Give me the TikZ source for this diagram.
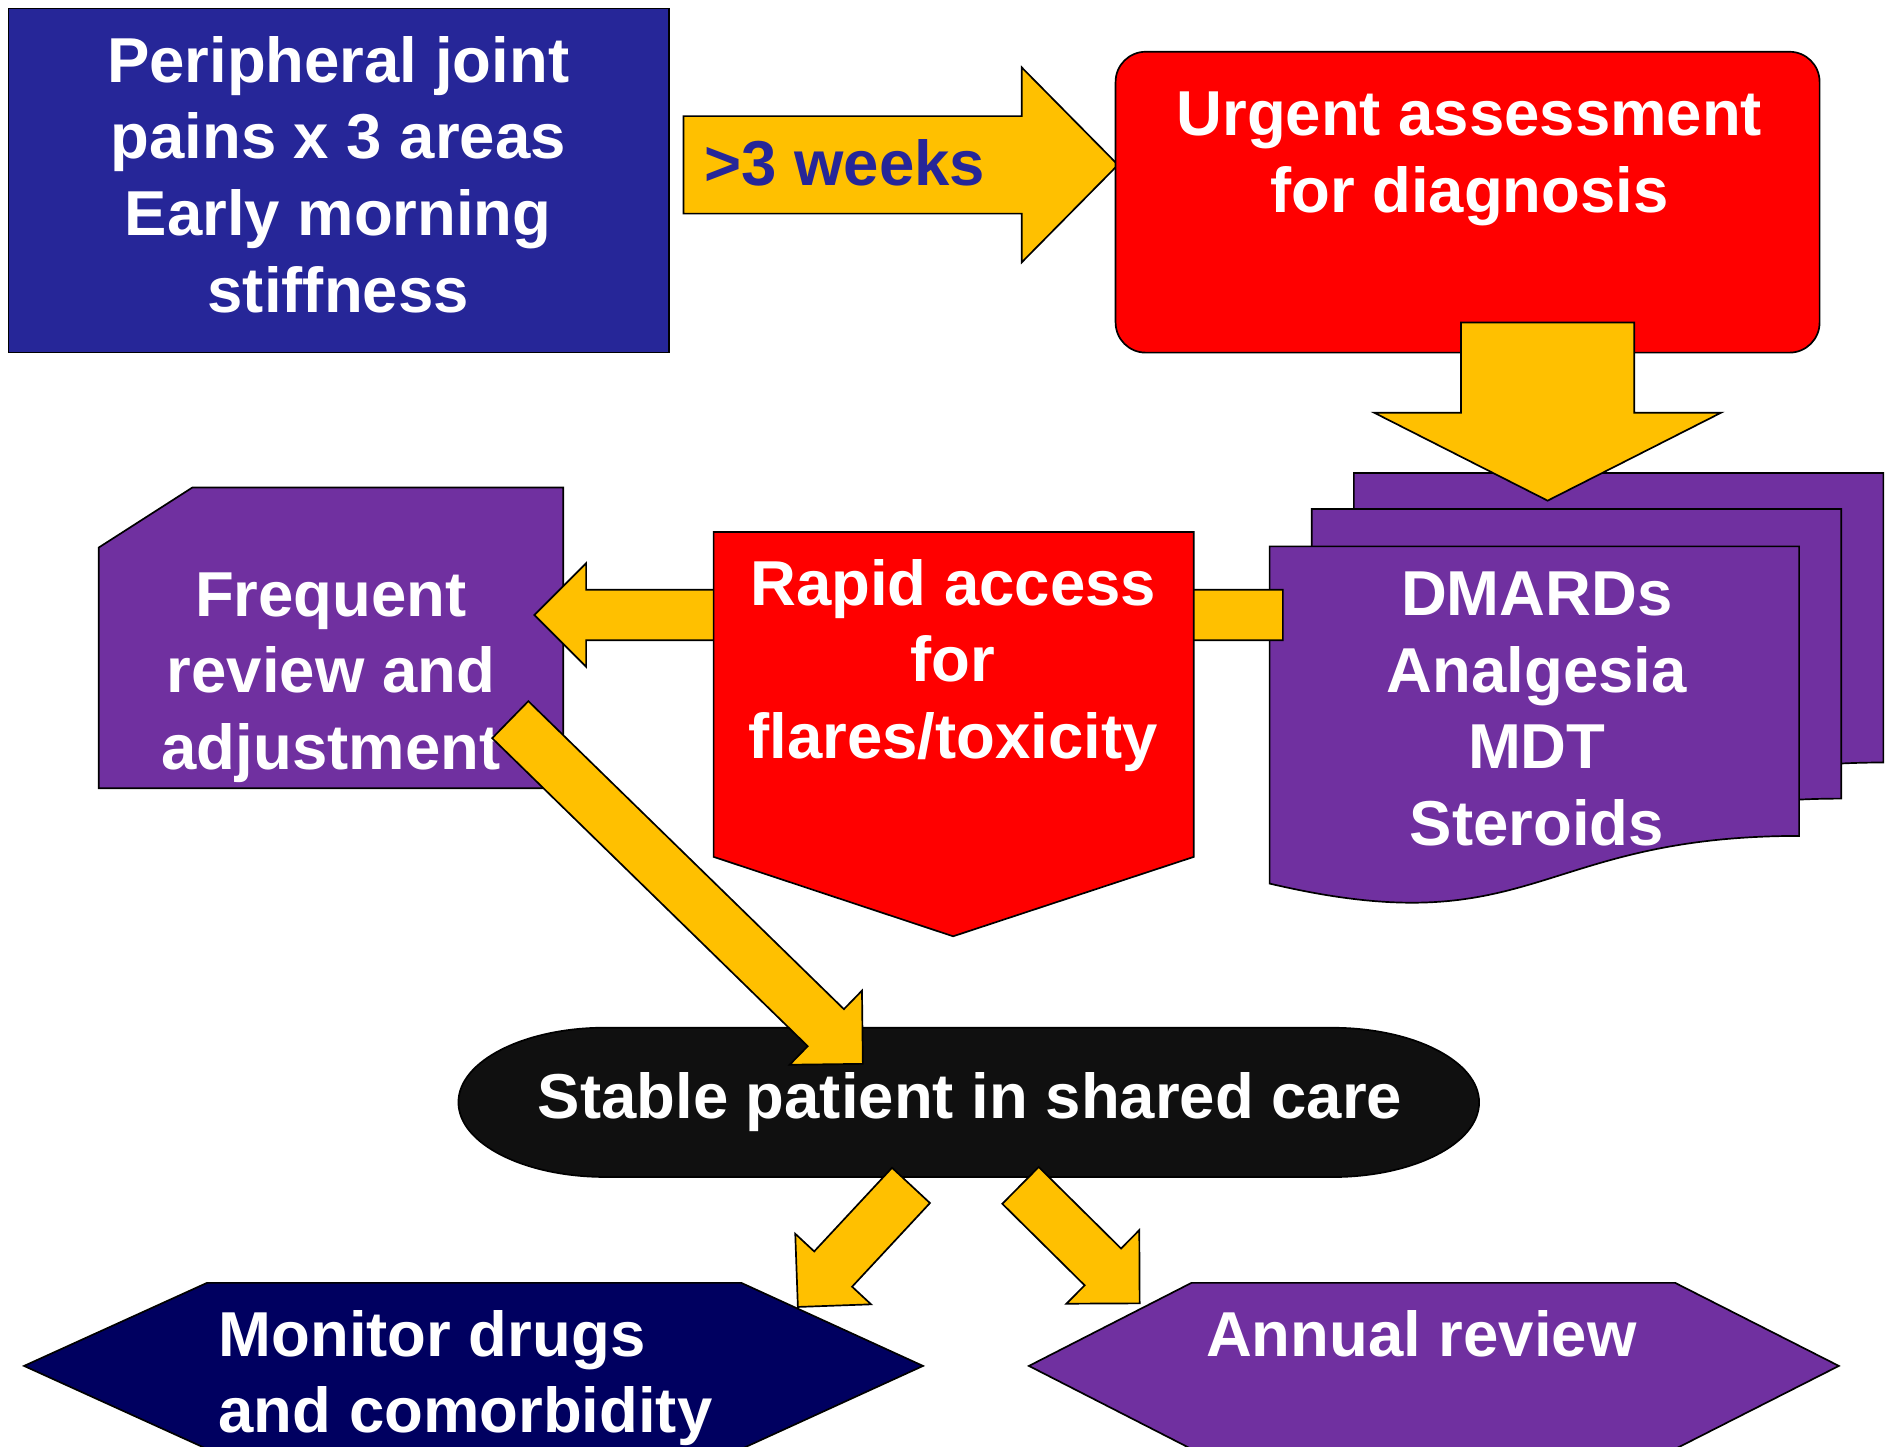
\documentclass[tikz,border=0pt]{standalone}
\usepackage{fontspec}
\setmainfont{Liberation Sans}
\usetikzlibrary{calc}
\definecolor{boxblue}{RGB}{38,38,152}
\definecolor{arrowyellow}{RGB}{255,192,0}
\definecolor{boxpurple}{RGB}{112,48,160}
\definecolor{boxnavy}{RGB}{0,0,96}
\definecolor{boxblack}{RGB}{16,16,16}
% block arrow: tail, tip, half shaft, half head, head length
\newcommand{\blockarrow}[5]{%
  \path ($(#2)!#5!(#1)$) coordinate (hb);
  \draw[arr] ($(#1)!#3!90:(#2)$) -- ($(hb)!#3!90:(#2)$) -- ($(hb)!#4!90:(#2)$)
    -- (#2) -- ($(hb)!#4!-90:(#2)$) -- ($(hb)!#3!-90:(#2)$) -- ($(#1)!#3!-90:(#2)$) -- cycle;
}
\begin{document}
\begin{tikzpicture}[x=0.01cm, y=-0.01cm,
  box/.style={draw=black, line width=0.4pt},
  arr/.style={fill=arrowyellow, draw=black, line width=0.4pt},
  txt/.style={text=white, font=\bfseries\fontsize{15}{18.1}\selectfont, align=center, inner sep=0pt}]
\useasboundingbox (0,0) rectangle (1568,1202);
\clip (0,0) rectangle (1568,1202);
% first step
\draw[box, fill=boxblue] (7,7) rectangle (556,293);
\node[txt] (periph) at (281,145) {Peripheral joint\\pains x 3 areas\\Early morning\\stiffness};
\coordinate (wk1) at (568,137);
\coordinate (wk2) at (929,137);
\blockarrow{wk1}{wk2}{0.405cm}{0.81cm}{0.8cm}
\node[txt, text=boxblue] (weeks) at (702,135) {>3 weeks};
\draw[box, fill=red, rounded corners=0.25cm] (927,43) rectangle (1512,293);
\node[txt] (urgent) at (1221,132) {Urgent assessment\\for diagnosis};
% treatment pages
\foreach \dx/\dy in {70/-61,35/-31,0/0}
{
\draw[box, fill=boxpurple, shift={(\dx,\dy)}] (1055,454) -- (1495,454) -- (1495,694.6)
   .. controls (1275,694.6) and (1275,786) .. (1055,734.2) -- cycle;
}
\node[txt] (drugs) at (1277,589) {DMARDs\\Analgesia\\MDT\\Steroids};
\coordinate (dn1) at (1286,268);
\coordinate (dn2) at (1286,416);
\blockarrow{dn1}{dn2}{0.72cm}{1.44cm}{0.73cm}
% review loop
\draw[box, fill=boxpurple] (82,455) -- (160,405) -- (468,405) -- (468,655) -- (82,655) -- cycle;
\node[txt] (frequent) at (275,563) {Frequent\\review and\\adjustment};
\coordinate (lf1) at (1066,511);
\coordinate (lf2) at (444,511);
\blockarrow{lf1}{lf2}{0.21cm}{0.43cm}{0.43cm}
\draw[box, fill=red] (593,442) -- (992,442) -- (992,712) -- (792,778) -- (593,712) -- cycle;
\node[txt] (rapid) at (792,553) {Rapid access\\for\\flares/toxicity};
% shared care
\draw[box, fill=boxblack] (503,854) -- (1107,854) arc (90:-90:1.22cm and 0.62cm) -- (503,978)
   arc (270:90:1.22cm and 0.62cm) -- cycle;
\node[txt] (stable) at (806,916) {Stable patient in shared care};
\coordinate (dg1) at (424,598);
\coordinate (dg2) at (717,884);
\blockarrow{dg1}{dg2}{0.215cm}{0.43cm}{0.43cm}
\draw[box, fill=boxnavy] (20,1135) -- (172,1066) -- (616,1066) -- (767,1135) -- (616,1204) -- (172,1204) -- cycle;
\node[txt, align=left, anchor=west] (monitor) at (181,1145) {Monitor drugs\\and comorbidity};
\draw[box, fill=boxpurple] (855,1135) -- (990,1066) -- (1392,1066) -- (1528,1135) -- (1392,1204) -- (990,1204) -- cycle;
\node[txt] (annual) at (1181,1108) {Annual review};
\coordinate (sl1) at (757,985);
\coordinate (sl2) at (663,1086);
\blockarrow{sl1}{sl2}{0.215cm}{0.43cm}{0.43cm}
\coordinate (sr1) at (848,985);
\coordinate (sr2) at (947,1083);
\blockarrow{sr1}{sr2}{0.215cm}{0.43cm}{0.43cm}
\end{tikzpicture}
\end{document}
